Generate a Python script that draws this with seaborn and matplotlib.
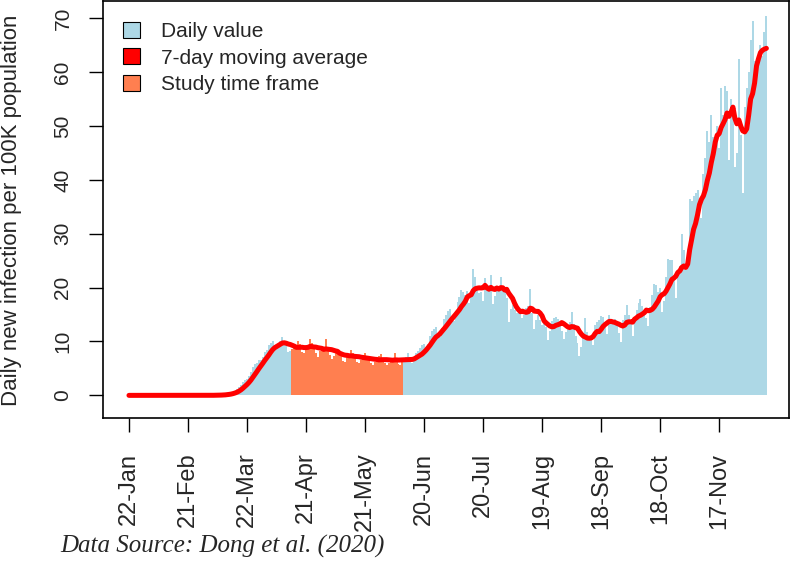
import numpy as np
import pandas as pd
import matplotlib
matplotlib.use("Agg")
import matplotlib.pyplot as plt
import seaborn as sns
from matplotlib.patches import Patch

# daily new infections per 100K (2020)
jan = [0.0, 0.0, 0.0, 0.0, 0.0, 0.0, 0.0, 0.0, 0.0, 0.0]
feb = [0.0, 0.0, 0.0, 0.0, 0.0, 0.0, 0.0, 0.0, 0.0, 0.0,
       0.0, 0.0, 0.0, 0.0, 0.0, 0.0, 0.0, 0.0, 0.0, 0.0,
       0.0, 0.0, 0.0, 0.0, 0.0, 0.0, 0.0, 0.01, 0.01]
mar = [0.01, 0.01, 0.02, 0.02, 0.03, 0.05,
       0.07, 0.08, 0.1, 0.15, 0.2, 0.3, 0.4,
       0.5, 0.7, 0.9, 1.2, 1.6, 2.0, 2.5,
       2.8, 3.1, 3.6, 4.3, 5.2, 5.8, 6.0,
       6.6, 6.5, 7.2, 8.0]
apr = [8.5, 9.3, 9.8,
       10.0, 9.0, 8.8, 9.6, 10.1, 10.8, 10.0,
       9.4, 8.0, 8.2, 8.6, 9.0, 9.2, 10.0,
       9.5, 8.0, 7.8, 8.6, 9.3, 10.4, 9.8,
       9.0, 7.8, 7.1, 8.2, 8.8, 9.0]
may = [10.5,
       8.6, 7.5, 6.8, 7.4, 8.0, 8.4, 8.2,
       7.6, 6.4, 6.2, 7.2, 7.4, 8.4, 7.8,
       7.2, 6.2, 6.0, 6.6, 7.0, 7.9, 7.4,
       6.8, 6.0, 5.6, 6.2, 6.8, 7.3, 7.6,
       6.9, 6.0]
jun = [5.6, 6.0, 6.6, 7.0, 7.9,
       7.0, 5.8, 5.7, 6.2, 6.6, 7.2, 7.8,
       7.2, 6.0, 6.4, 7.8, 8.2, 8.8, 9.3,
       9.6, 8.6, 9.5, 11.0, 12.0, 12.4, 12.6,
       11.5, 10.8, 12.5, 14.2]
jul = [15.0, 15.6, 16.0, 14.8,
       13.8, 15.6, 17.4, 18.2, 19.6, 19.2, 18.6,
       19.4, 17.2, 18.6, 23.5, 22.0, 20.0, 19.0,
       19.2, 17.5, 21.8, 20.0, 20.4, 22.4, 17.0,
       18.5, 19.5, 20.2, 22.0, 20.2, 19.4]
aug = [18.0,
       13.6, 16.0, 16.7, 15.8, 15.2, 16.0, 15.4,
       14.3, 15.0, 16.2, 16.6, 19.8, 15.2, 12.4,
       14.0, 14.9, 14.0, 13.0, 13.4, 12.6, 10.2,
       12.0, 13.8, 14.4, 14.6, 14.2, 13.6, 12.0,
       10.5, 11.8]
sep = [12.4, 13.6, 15.5, 13.2, 11.0,
       9.8, 7.4, 9.0, 11.0, 14.4, 11.8, 10.8,
       10.2, 9.4, 13.0, 13.6, 14.0, 14.8, 14.6,
       12.6, 11.4, 15.0, 13.8, 13.2, 14.2, 13.4,
       11.6, 9.9, 14.0, 15.0]
oct_ = [16.7, 15.0, 13.4,
        11.1, 13.8, 15.8, 17.2, 17.8, 16.6, 15.2,
        14.4, 12.9, 16.4, 18.6, 20.7, 20.4, 19.2,
        20.0, 15.5, 17.6, 22.0, 25.4, 25.2, 25.1,
        21.6, 18.0, 22.4, 24.0, 30.0, 27.0, 23.2]
nov = [26.0,
       36.5, 36.0, 37.0, 37.6, 38.2, 36.5, 33.0,
       41.0, 44.0, 49.0, 47.0, 52.0, 48.0, 48.0,
       50.0, 46.0, 57.0, 52.0, 57.4, 56.5, 43.6,
       55.0, 53.0, 42.4, 44.9, 62.5, 48.3, 37.6,
       53.6]
dec = [57.0, 60.1, 66.0, 69.4, 62.0, 60.0, 63.0, 65.0, 63.0, 67.5, 70.4]

start_date = "2020-01-22"
study_start = "2020-04-14"
study_end = "2020-06-09"
tick_labels = ["22-Jan", "21-Feb", "22-Mar", "21-Apr", "21-May", "20-Jun",
               "20-Jul", "19-Aug", "18-Sep", "18-Oct", "17-Nov"]

daily = jan + feb + mar + apr + may + jun + jul + aug + sep + oct_ + nov + dec
df = pd.DataFrame({"date": pd.date_range(start_date, periods=len(daily)), "value": daily})
df["day"] = np.arange(len(df))
df["ma7"] = df["value"].rolling(7, min_periods=1).mean()
df["period"] = np.where(df["date"].between(study_start, study_end), "study", "other")

sns.set_theme(style="ticks")
plt.rcParams["font.family"] = ["Liberation Sans", "DejaVu Sans"]

fig = plt.figure(figsize=(7.94, 5.65), dpi=100)
ax = fig.add_axes([103 / 794, 1 - 418 / 565, 686 / 794, 417 / 565])

sns.barplot(data=df, x="day", y="value", hue="period",
            palette={"other": "lightblue", "study": "coral"}, saturation=1,
            native_scale=True, dodge=False, width=1, linewidth=0,
            errorbar=None, legend=False, ax=ax)
sns.lineplot(data=df, x="day", y="ma7", color="red", lw=3.6, ax=ax)

ax.set_xlim(-13.2, 335.5)
ax.set_ylim(-4.2, 73.2)
ax.set_xticks(range(0, 301, 30))
ax.set_xticklabels(tick_labels, rotation=90, fontsize=17)
ax.set_yticks(range(0, 71, 10))
ax.set_yticklabels([str(v) for v in range(0, 71, 10)], rotation=90, va="center", fontsize=15)
ax.set_xlabel("")
ax.set_ylabel("")
for s in ax.spines.values():
    s.set_color("black")
    s.set_linewidth(1.2)
ax.tick_params(axis="both", length=10, width=1, color="black", direction="out")
ax.tick_params(axis="x", pad=15)
ax.tick_params(axis="y", pad=12)

handles = [Patch(facecolor="lightblue", edgecolor="black", lw=0.8),
           Patch(facecolor="red", edgecolor="black", lw=0.8),
           Patch(facecolor="coral", edgecolor="black", lw=0.8)]
ax.legend(handles, ["Daily value", "7-day moving average", "Study time frame"],
          loc="upper left", bbox_to_anchor=(0.002, 0.995), frameon=False, fontsize=15,
          handlelength=0.8, handleheight=0.8, handletextpad=1.0, labelspacing=0.35)

fig.text(12 / 794, 1 - 210 / 565, "Daily new infection per 100K population",
         rotation=90, ha="center", va="center", fontsize=16)
fig.text(60 / 794, 1 - 546 / 565, "Data Source: Dong et al. (2020)",
         family="Liberation Serif", style="italic", fontsize=18, va="center")

fig.savefig("out.png", dpi=100)
